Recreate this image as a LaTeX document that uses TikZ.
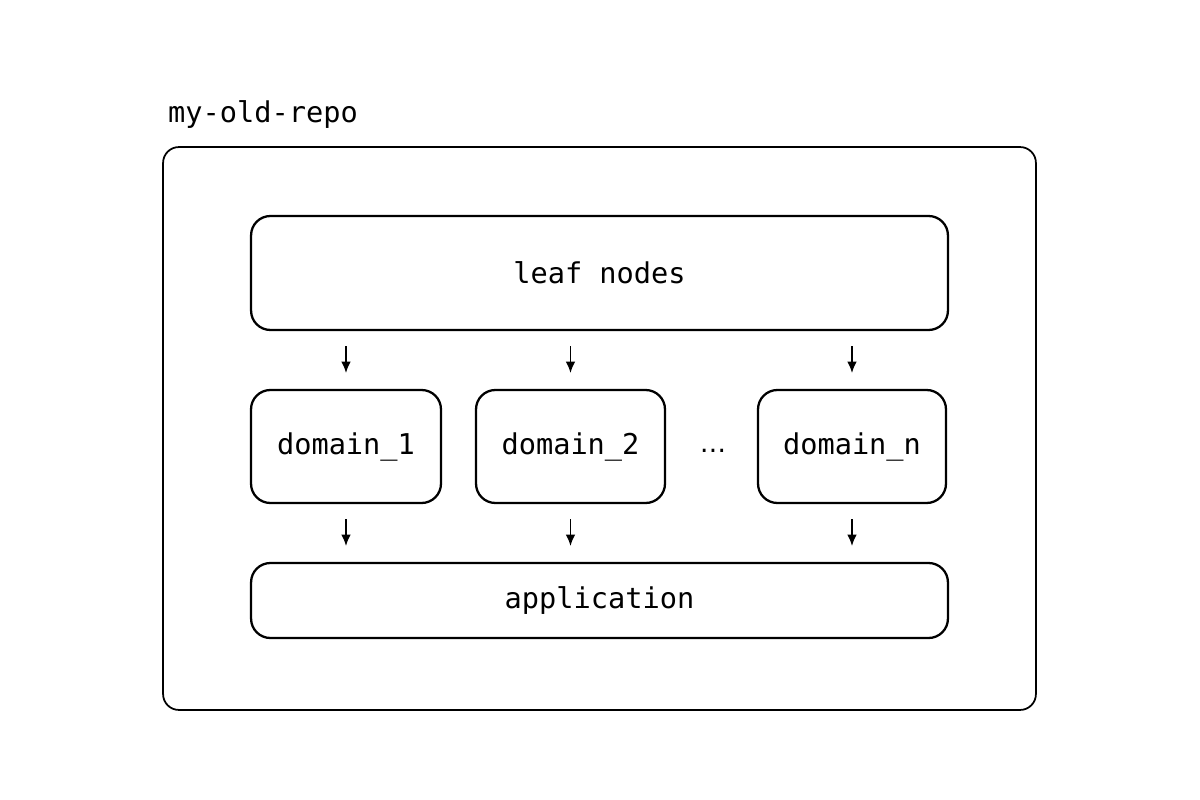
\documentclass[tikz,border=0pt]{standalone}
\usepackage{fontspec}
\usetikzlibrary{arrows.meta}
\setmonofont{DejaVu Sans Mono}
\newfontfamily\dotfont{DejaVu Sans}
\begin{document}
\begin{tikzpicture}[x=0.02cm, y=-0.02cm, font=\ttfamily\fontsize{16.3}{18}\selectfont, line width=1.3pt, >={Latex[length=6.5pt,width=5.5pt]},
box node/.style={draw,rounded corners=11pt,inner sep=0pt,minimum height=2.26cm},
repo node/.style={draw,line width=1pt,rounded corners=9pt,inner sep=0pt,minimum width=17.46cm,minimum height=11.26cm},
dep arrow/.style={->,line width=1pt,shorten <=8.5pt,shorten >=9pt}]
\useasboundingbox (0,0) rectangle (1200,800);
\node[repo node] (repo) at (599.5,428.5) {};
\node[anchor=base west,inner sep=0pt] (title) at (167,123) {my-old-repo};
\node[box node,minimum width=13.94cm,minimum height=2.28cm] (leaf) at (599.5,273) {leaf nodes};
\node[box node,minimum width=3.8cm] (d1) at (346,446.5) {domain\_1};
\node[box node,minimum width=3.78cm] (d2) at (570.5,446.5) {domain\_2};
\node[box node,minimum width=3.76cm] (dn) at (852,446.5) {domain\_n};
\node[inner sep=0pt,font=\dotfont\fontsize{15}{16}\selectfont] (dots) at (713,451) {…};
\node[box node,minimum width=13.94cm,minimum height=1.5cm] (app) at (599.5,600.5) {application};
\draw[dep arrow] (leaf.south -| d1.north) -- (d1.north);
\draw[dep arrow] (leaf.south -| d2.north) -- (d2.north);
\draw[dep arrow] (leaf.south -| dn.north) -- (dn.north);
\draw[dep arrow] (d1.south) -- (app.north -| d1.south);
\draw[dep arrow] (d2.south) -- (app.north -| d2.south);
\draw[dep arrow] (dn.south) -- (app.north -| dn.south);
\end{tikzpicture}
\end{document}
